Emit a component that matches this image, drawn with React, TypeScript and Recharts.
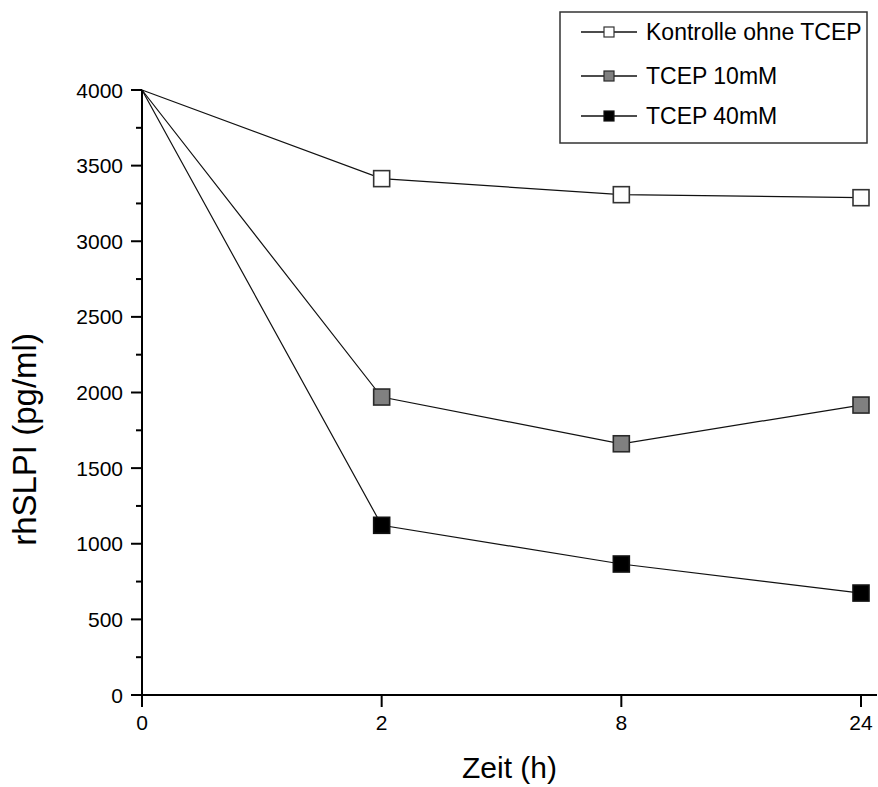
import React from "react";
import { LineChart, Line, XAxis, YAxis, Legend } from "recharts";

const FONT = "'Liberation Sans', Arial, sans-serif";

// Zeitpunkte (h) und Messwerte rhSLPI (pg/ml)
const ZEIT = ["0", "2", "8", "24"];
const KONTROLLE = [4000, 3414, 3308, 3288];
const TCEP_10 = [4000, 1970, 1661, 1917];
const TCEP_40 = [4000, 1122, 866, 674];

// major ticks every 500, minor ticks in between
const Y_TICKS = [0, 250, 500, 750, 1000, 1250, 1500, 1750, 2000, 2250, 2500, 2750, 3000, 3250, 3500, 3750, 4000];

const SERIES = [
    { key: "kontrolle", name: "Kontrolle ohne TCEP", fill: "#ffffff", stroke: "#333333" },
    { key: "tcep10", name: "TCEP 10mM", fill: "#808080", stroke: "#2a2a2a" },
    { key: "tcep40", name: "TCEP 40mM", fill: "#000000", stroke: "#111111" },
];

const data = ZEIT.map((zeit, i) => ({
    zeit,
    kontrolle: KONTROLLE[i],
    tcep10: TCEP_10[i],
    tcep40: TCEP_40[i],
}));

const YTick = (props: any) => {
    const { x, y, payload } = props;
    const major = payload.value % 500 === 0;
    return (
        <g>
            <line x1={x} x2={x - (major ? 11 : 6)} y1={y} y2={y} stroke="#000" strokeWidth={2} />
            {major && (
                <text x={x - 19} y={y} dy="0.36em" textAnchor="end" fontSize={21} fontFamily={FONT} fill="#000">
                    {payload.value}
                </text>
            )}
        </g>
    );
};

const YLabel = (props: any) => {
    const vb = props.viewBox;
    const cx = vb.x + 24;
    const cy = vb.y + vb.height / 2 + 47;
    return (
        <text
            x={cx}
            y={cy}
            transform={`rotate(-90, ${cx}, ${cy})`}
            textAnchor="middle"
            dominantBaseline="central"
            fontSize={33}
            fontFamily={FONT}
            fill="#000"
        >
            rhSLPI (pg/ml)
        </text>
    );
};

// square markers, none on the starting value
const squareDot = (fill: string, stroke: string) => (props: any) => {
    const { cx, cy, index, dataKey } = props;
    if (index === 0) return <g key={`${dataKey}-${index}`} />;
    return (
        <rect
            key={`${dataKey}-${index}`}
            x={cx - 8}
            y={cy - 8}
            width={16}
            height={16}
            fill={fill}
            stroke={stroke}
            strokeWidth={1.6}
        />
    );
};

const LegendBox = () => (
    <svg width={310} height={134} style={{ display: "block" }}>
        <rect x={1} y={1} width={307} height={131} fill="#fff" stroke="#333" strokeWidth={1.5} />
        {SERIES.map((s, i) => {
            const cy = [21, 65, 105][i];
            return (
                <g key={s.key}>
                    <line x1={22} x2={78} y1={cy} y2={cy} stroke="#111" strokeWidth={1.3} />
                    <rect x={45} y={cy - 5} width={10} height={10} fill={s.fill} stroke={s.stroke} strokeWidth={1.2} />
                    <text x={87} y={cy} dy="0.36em" fontSize={23} fontFamily={FONT} fill="#000">
                        {s.name}
                    </text>
                </g>
            );
        })}
    </svg>
);

const App: React.FC = () => {
    return (
        <div style={{ position: "absolute", left: 0, top: 0, width: 878, height: 787, background: "#fff" }}>
            <LineChart width={878} height={787} data={data} margin={{ top: 90, right: 1, bottom: 0, left: 0 }}>
                <XAxis
                    dataKey="zeit"
                    padding={{ left: 0, right: 16 }}
                    height={92}
                    axisLine={{ stroke: "#000", strokeWidth: 2 }}
                    tickLine={{ stroke: "#000", strokeWidth: 2 }}
                    tickSize={12}
                    tickMargin={8}
                    tick={{ fontSize: 21, fill: "#000", fontFamily: FONT }}
                    label={{ value: "Zeit (h)", position: "insideBottom", offset: 9, fontSize: 30, fill: "#000", fontFamily: FONT }}
                />
                <YAxis
                    width={142}
                    domain={[0, 4000]}
                    ticks={Y_TICKS}
                    interval={0}
                    tickSize={0}
                    tickMargin={0}
                    tickLine={false}
                    axisLine={{ stroke: "#000", strokeWidth: 2 }}
                    tick={<YTick />}
                    label={{ content: <YLabel /> }}
                />
                <Legend
                    layout="vertical"
                    verticalAlign="middle"
                    align="center"
                    wrapperStyle={{ left: 559, top: 11, width: 310, height: 134 }}
                    content={() => <LegendBox />}
                />
                {SERIES.map((s) => (
                    <Line
                        key={s.key}
                        type="linear"
                        dataKey={s.key}
                        name={s.name}
                        stroke="#111"
                        strokeWidth={1.2}
                        dot={squareDot(s.fill, s.stroke)}
                        activeDot={false}
                        isAnimationActive={false}
                    />
                ))}
            </LineChart>
        </div>
    );
};

export default App;
